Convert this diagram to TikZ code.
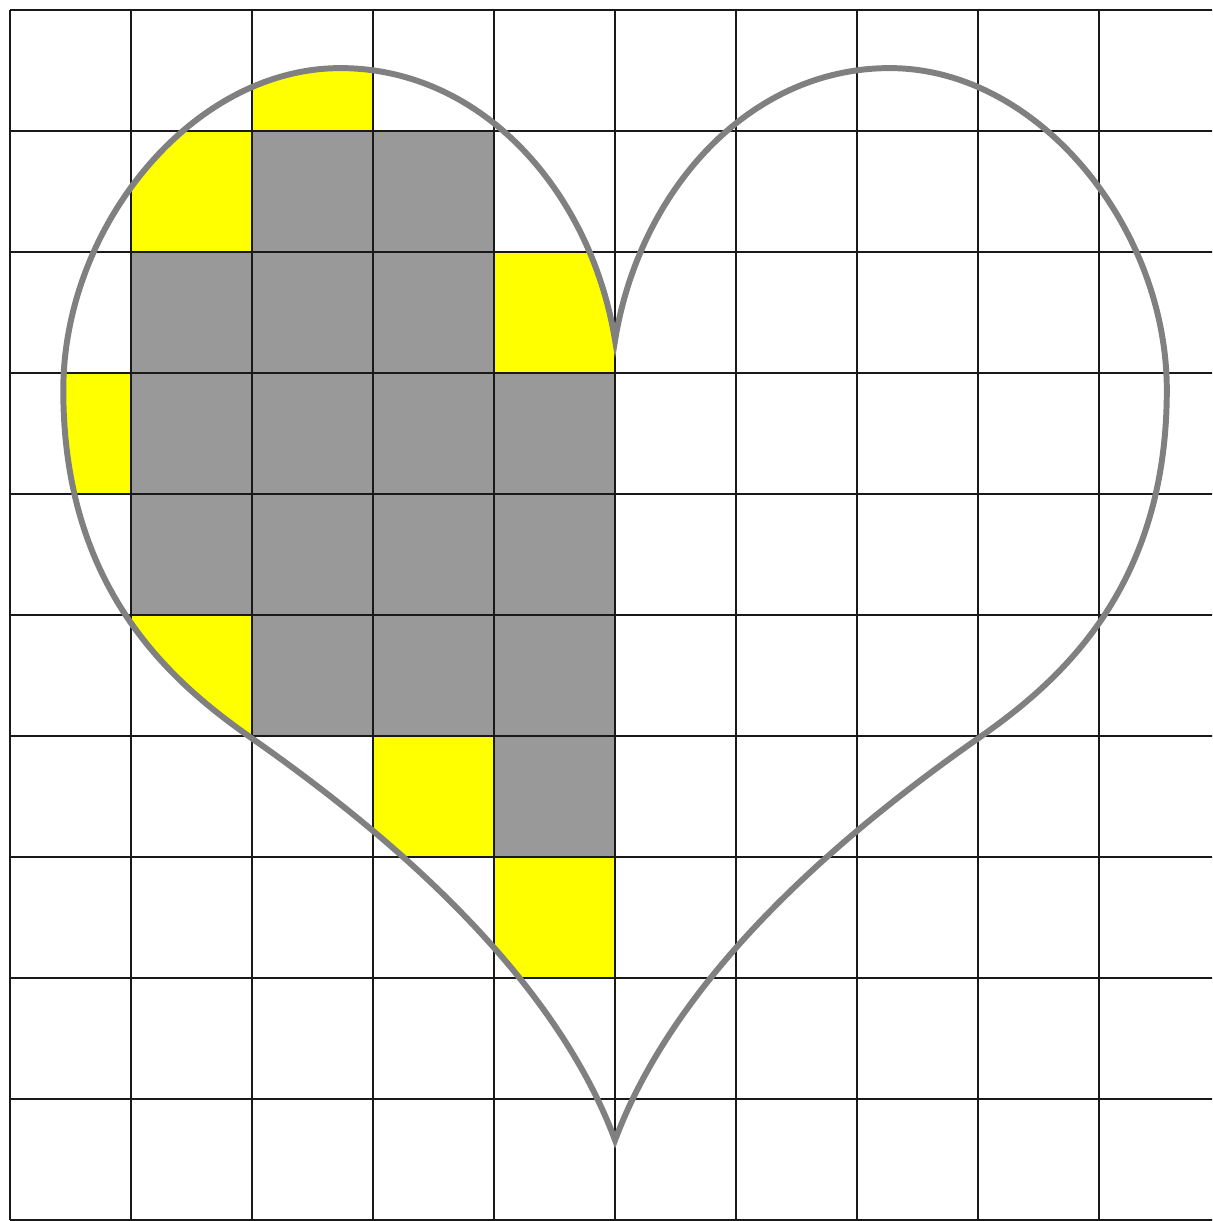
\documentclass[tikz,border=0pt]{standalone}
\definecolor{cellgray}{HTML}{999999}
\definecolor{cellyellow}{HTML}{FFFF00}
\definecolor{heartline}{HTML}{808080}
\tikzset{
  gridline/.style={line width=0.45pt, draw=black!90},
  heartstroke/.style={line width=1.4pt, draw=heartline, line join=miter},
  graycell/.style={fill=cellgray},
  yellowcell/.style={fill=cellyellow}
}
\begin{document}
\begin{tikzpicture}
\clip (-0.083,0.083) rectangle (9.934,-10.008);
\fill[white] (-0.083,0.083) rectangle (9.934,-10.008);
% heart outline path
\path[save path=\heartshape]
  (5,-2.73) .. controls (4.8,-1.5) and (3.9,-0.48) .. (2.73,-0.48)
  .. controls (1.5,-0.48) and (0.44,-1.8) .. (0.44,-3.14)
  .. controls (0.44,-4.8) and (1.35,-5.565) .. (2,-6.02)
  .. controls (3.2,-6.86) and (4.5,-8.0) .. (5,-9.34)
  .. controls (5.5,-8.0) and (6.8,-6.86) .. (8,-6.02)
  .. controls (8.65,-5.565) and (9.56,-4.8) .. (9.56,-3.14)
  .. controls (9.56,-1.8) and (8.5,-0.48) .. (7.27,-0.48)
  .. controls (6.1,-0.48) and (5.2,-1.5) .. (5,-2.73) -- cycle;
% yellow cells, clipped to the heart
\begin{scope}
  \clip[use path=\heartshape];
  \foreach \c/\r in {2/0,1/1,4/2,0/3,1/5,3/6,4/7}
    \fill[yellowcell] (\c,-\r) rectangle ++(1,-1);
\end{scope}
% gray cells
\foreach \c/\r in {2/1,3/1,1/2,2/2,3/2,1/3,2/3,3/3,4/3,1/4,2/4,3/4,4/4,2/5,3/5,4/5,4/6}
  \fill[graycell] (\c,-\r) rectangle ++(1,-1);
% grid
\foreach \i in {0,...,10} {
  \draw[gridline] (\i,0) -- (\i,-10);
  \draw[gridline] (0,-\i) -- (10,-\i);
}
% heart outline
\draw[heartstroke, use path=\heartshape];
\end{tikzpicture}
\end{document}
